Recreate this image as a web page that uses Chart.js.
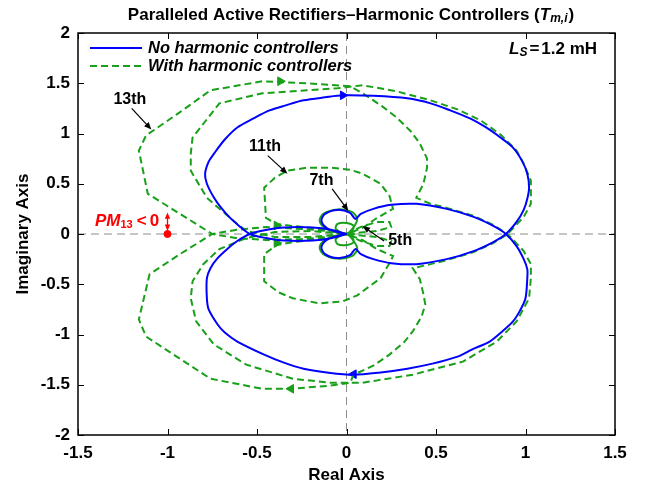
<!DOCTYPE html>
<html>
<head>
<meta charset="utf-8">
<script src="https://cdn.jsdelivr.net/npm/chart.js@4.4.1/dist/chart.umd.min.js"></script>
<style>
  html, body { margin: 0; padding: 0; background: #fff; }
</style>
</head>
<body>
<canvas id="nyquist" width="649" height="492"></canvas>
<script>
// axis ticks
const xTicks = [-1.5, -1, -0.5, 0, 0.5, 1, 1.5];
const yTicks = [-2, -1.5, -1, -0.5, 0, 0.5, 1, 1.5, 2];

// No harmonic controllers, both halves of the locus [re, im]
const noHarmA = [[0,0],[-0.08,-0.04],[-0.19,-0.065],[-0.35,-0.065],[-0.45,-0.04],[-0.54,0],[-0.6,0.08],[-0.65,0.16],
  [-0.7,0.26],[-0.74,0.36],[-0.78,0.5],[-0.79,0.6],[-0.77,0.72],[-0.74,0.8],[-0.68,0.94],[-0.61,1.06],[-0.52,1.15],
  [-0.43,1.23],[-0.34,1.28],[-0.24,1.33],[-0.12,1.36],[-0.02,1.38],[0.15,1.375],[0.34,1.35],[0.47,1.3],[0.58,1.23],
  [0.69,1.15],[0.78,1.06],[0.86,0.96],[0.93,0.86],[0.98,0.73],[1.01,0.6],[1.02,0.46],[1.01,0.35],[0.99,0.24],
  [0.95,0.12],[0.89,0],[0.82,-0.08],[0.71,-0.17],[0.56,-0.25],[0.39,-0.3],[0.25,-0.29],[0.15,-0.25],[0.08,-0.2],
  [0.05,-0.15],[0.02,-0.21],[-0.05,-0.24],[-0.12,-0.2],[-0.14,-0.13],[-0.11,-0.06],[-0.05,-0.02],[0,0]];
const noHarmB = [[0,0],[-0.05,0.02],[-0.11,0.06],[-0.14,0.13],[-0.12,0.2],[-0.05,0.24],[0.02,0.21],[0.05,0.15],
  [0.08,0.2],[0.15,0.25],[0.25,0.29],[0.39,0.3],[0.56,0.25],[0.71,0.17],[0.82,0.08],[0.89,0],[0.95,-0.12],
  [0.99,-0.25],[1.01,-0.35],[1.01,-0.44],[1.0,-0.64],[0.97,-0.76],[0.93,-0.87],[0.87,-0.97],[0.8,-1.07],[0.7,-1.15],
  [0.62,-1.22],[0.48,-1.29],[0.34,-1.34],[0.18,-1.38],[0.04,-1.4],[-0.1,-1.38],[-0.24,-1.34],[-0.35,-1.28],
  [-0.46,-1.2],[-0.61,-1.07],[-0.68,-0.98],[-0.72,-0.9],[-0.77,-0.75],[-0.78,-0.64],[-0.78,-0.44],[-0.76,-0.34],
  [-0.72,-0.24],[-0.66,-0.14],[-0.61,-0.07],[-0.54,0],[-0.45,0.04],[-0.35,0.065],[-0.19,0.065],[-0.08,0.04],[0,0]];

// With harmonic controllers
const withHarmA = [[0,0],[-0.1,-0.03],[-0.25,-0.05],[-0.45,-0.06],[-0.62,-0.04],[-0.75,0],[-0.93,0.2],[-1.11,0.4],
  [-1.16,0.83],[-1.12,0.98],[-0.94,1.2],[-0.76,1.43],[-0.47,1.52],[-0.22,1.5],[0.02,1.47],[0.09,1.4],[0.2,1.27],
  [0.28,1.16],[0.36,1.02],[0.41,0.9],[0.45,0.75],[0.45,0.66],[0.43,0.5],[0.39,0.36],[0.47,0.3],[0.56,0.26],
  [0.71,0.18],[0.82,0.09],[0.9,0],[0.99,-0.17],[1.03,-0.3],[1.03,-0.44],[1.02,-0.64],[0.95,-0.87],[0.84,-1.07],
  [0.65,-1.27],[0.37,-1.4],[0.09,-1.48],[-0.09,-1.48],[-0.3,-1.44],[-0.56,-1.3],[-0.74,-1.1],[-0.84,-0.87],
  [-0.87,-0.64],[-0.86,-0.47],[-0.8,-0.3],[-0.71,-0.15],[-0.56,-0.04],[-0.4,0.02],[-0.2,0.03],[0,0]];
const withHarmB = [[0,0],[-0.1,0.03],[-0.25,0.05],[-0.45,0.07],[-0.62,0.04],[-0.75,0],[-0.93,-0.2],[-1.1,-0.4],
  [-1.16,-0.85],[-1.12,-1.02],[-0.94,-1.23],[-0.76,-1.44],[-0.47,-1.54],[-0.31,-1.54],[-0.1,-1.51],[0.02,-1.48],
  [0.04,-1.4],[0.15,-1.31],[0.24,-1.2],[0.32,-1.08],[0.37,-0.97],[0.42,-0.82],[0.44,-0.7],[0.43,-0.6],[0.41,-0.45],
  [0.37,-0.34],[0.47,-0.3],[0.56,-0.26],[0.71,-0.18],[0.82,-0.09],[0.9,0],[0.99,0.17],[1.03,0.3],[1.03,0.53],
  [0.99,0.7],[0.95,0.83],[0.86,0.99],[0.75,1.13],[0.62,1.24],[0.47,1.33],[0.28,1.42],[0.09,1.48],[-0.05,1.45],
  [-0.22,1.43],[-0.47,1.4],[-0.71,1.3],[-0.86,0.96],[-0.87,0.8],[-0.87,0.63],[-0.78,0.36],[-0.65,0.16],
  [-0.56,0.03],[-0.4,-0.03],[-0.2,-0.03],[0,0]];
const with11Upper = [[0,0],[-0.15,0.05],[-0.3,0.08],[-0.39,0.1],[-0.45,0.16],[-0.46,0.46],[-0.4,0.56],[-0.33,0.63],
  [-0.22,0.66],[-0.09,0.66],[0.02,0.64],[0.09,0.6],[0.19,0.5],[0.24,0.38],[0.26,0.25],[0.17,0.16],[0.09,0.06],[0,0]];
const with11Lower = [[0,0],[-0.15,-0.05],[-0.3,-0.08],[-0.39,-0.11],[-0.46,-0.2],[-0.46,-0.47],[-0.38,-0.58],
  [-0.3,-0.64],[-0.15,-0.69],[-0.02,-0.67],[0.06,-0.61],[0.19,-0.44],[0.24,-0.29],[0.26,-0.22],[0.17,-0.15],
  [0.09,-0.06],[0,0]];
const with7Upper = [[0,0],[-0.06,0.02],[-0.12,0.06],[-0.15,0.13],[-0.13,0.2],[-0.05,0.245],[0.03,0.22],[0.06,0.15],
  [0.04,0.07],[0,0],[-0.06,0.05],[-0.05,0.1],[0,0.11],[0.04,0.08],[0.03,0.03],[0,0]];
const with7Lower = [[0,0],[-0.06,-0.02],[-0.12,-0.06],[-0.15,-0.13],[-0.13,-0.2],[-0.05,-0.245],[0.03,-0.22],
  [0.06,-0.15],[0.04,-0.07],[0,0],[-0.06,-0.05],[-0.05,-0.1],[0,-0.11],[0.04,-0.08],[0.03,-0.03],[0,0]];
const with5Upper = [[0,0],[0.08,0.07],[0.17,0.12],[0.24,0.12],[0.25,0.07],[0.17,0.03],[0,0]];
const with5Lower = [[0,0],[0.08,-0.07],[0.17,-0.12],[0.24,-0.12],[0.25,-0.07],[0.17,-0.03],[0,0]];

// direction arrows on the loci (position and heading in degrees)
const blueArrowPts = [[-0.02,1.38],[0.04,-1.395]];
const blueArrowDir = [90, 270];
const greenArrowPts = [[-0.37,1.52],[-0.31,-1.54],[-0.39,0.085],[-0.39,-0.09]];
const greenArrowDir = [90, 270, 90, 90];

// critical point and the 13th phase margin mark
const criticalPt = [[-1, 0]];
const pmTop = 0.215;

// labels with pointer arrows: text, label centre, arrow tail, arrow head
const harmLabels = [
  ['13th', [-1.21, 1.34], [-1.2, 1.25], [-1.09, 1.04]],
  ['11th', [-0.455, 0.87], [-0.44, 0.78], [-0.33, 0.6]],
  ['7th', [-0.14, 0.53], [-0.08, 0.45], [0.01, 0.23]],
  ['5th', [0.3, -0.07], [0.21, -0.07], [0.09, 0.08]]
];

const BLUE = 'rgb(0,0,255)';
const GREEN = 'rgb(24,160,24)';
const FONT = '"Liberation Sans", Arial, sans-serif';

const pts = arr => arr.map(p => ({ x: p[0], y: p[1] }));

function blueLine(arr) {
  return { data: pts(arr), showLine: true, borderColor: BLUE, borderWidth: 2, pointRadius: 0, tension: 0.3, fill: false };
}
function greenLine(arr) {
  return { data: pts(arr), showLine: true, borderColor: GREEN, borderWidth: 2, borderDash: [7, 4], pointRadius: 0, tension: 0, fill: false };
}

const datasets = [
  blueLine(noHarmA), blueLine(noHarmB),
  greenLine(withHarmA), greenLine(withHarmB),
  greenLine(with11Upper), greenLine(with11Lower),
  { data: pts(with7Upper), showLine: true, borderColor: GREEN, borderWidth: 2, pointRadius: 0, tension: 0.3 },
  { data: pts(with7Lower), showLine: true, borderColor: GREEN, borderWidth: 2, pointRadius: 0, tension: 0.3 },
  greenLine(with5Upper), greenLine(with5Lower),
  { data: pts(blueArrowPts), showLine: false, pointStyle: 'triangle', pointRadius: 5, pointRotation: blueArrowDir,
    backgroundColor: BLUE, borderColor: BLUE, borderWidth: 1 },
  { data: pts(greenArrowPts), showLine: false, pointStyle: 'triangle', pointRadius: 5, pointRotation: greenArrowDir,
    backgroundColor: GREEN, borderColor: GREEN, borderWidth: 1 },
  { data: pts(criticalPt), showLine: false, pointStyle: 'circle', pointRadius: 3.5,
    backgroundColor: 'rgb(255,0,0)', borderColor: 'rgb(255,0,0)' }
];

function head(c, x2, y2, a, size) {
  c.beginPath();
  c.moveTo(x2, y2);
  c.lineTo(x2 - size * Math.cos(a - 0.4), y2 - size * Math.sin(a - 0.4));
  c.lineTo(x2 - size * Math.cos(a + 0.4), y2 - size * Math.sin(a + 0.4));
  c.closePath(); c.fill();
}

function arrow(c, x1, y1, x2, y2, color, size) {
  const a = Math.atan2(y2 - y1, x2 - x1);
  c.strokeStyle = color; c.fillStyle = color; c.lineWidth = 1.2;
  c.beginPath(); c.moveTo(x1, y1); c.lineTo(x2 - Math.cos(a) * size * 0.8, y2 - Math.sin(a) * size * 0.8); c.stroke();
  head(c, x2, y2, a, size);
}

const framePlugin = {
  id: 'frame',
  beforeDatasetsDraw(chart) {
    const { ctx: c, chartArea: a, scales: { x, y } } = chart;
    c.save();
    c.strokeStyle = '#8c8c8c'; c.lineWidth = 1; c.setLineDash([8, 5]);
    c.beginPath();
    c.moveTo(a.left, y.getPixelForValue(0)); c.lineTo(a.right, y.getPixelForValue(0));
    c.moveTo(x.getPixelForValue(0), a.top); c.lineTo(x.getPixelForValue(0), a.bottom);
    c.stroke();

    // PM13 < 0 double arrow, below the critical point marker
    const RED = 'rgb(255,0,0)';
    const cx = x.getPixelForValue(criticalPt[0][0]);
    const y0 = y.getPixelForValue(criticalPt[0][1]) - 3, y1 = y.getPixelForValue(pmTop);
    c.setLineDash([]);
    c.strokeStyle = RED; c.fillStyle = RED; c.lineWidth = 1.3;
    c.beginPath(); c.moveTo(cx, y0 - 5); c.lineTo(cx, y1 + 5); c.stroke();
    head(c, cx, y1, -Math.PI / 2, 7);
    head(c, cx, y0, Math.PI / 2, 7);
    c.restore();
  },
  afterDatasetsDraw(chart) {
    const { ctx: c, chartArea: a, scales: { x, y } } = chart;
    c.save();
    // box and inward ticks
    c.strokeStyle = '#000'; c.lineWidth = 1.5; c.setLineDash([]);
    c.strokeRect(a.left, a.top, a.right - a.left, a.bottom - a.top);
    c.lineWidth = 1;
    c.beginPath();
    xTicks.forEach(v => {
      const px = Math.round(x.getPixelForValue(v)) + 0.5;
      c.moveTo(px, a.bottom); c.lineTo(px, a.bottom - 6);
      c.moveTo(px, a.top); c.lineTo(px, a.top + 6);
    });
    yTicks.forEach(v => {
      const py = Math.round(y.getPixelForValue(v)) + 0.5;
      c.moveTo(a.left, py); c.lineTo(a.left + 6, py);
      c.moveTo(a.right, py); c.lineTo(a.right - 6, py);
    });
    c.stroke();

    // title
    const t1 = 'Paralleled Active Rectifiers\u2013Harmonic Controllers (';
    c.fillStyle = '#000'; c.textBaseline = 'middle'; c.textAlign = 'left';
    const fb = 'bold 17px ' + FONT, fi = 'italic bold 17px ' + FONT, fs = 'italic bold 12px ' + FONT;
    c.font = fb; const w1 = c.measureText(t1).width, w4 = c.measureText(')').width;
    c.font = fi; const w2 = c.measureText('T').width;
    c.font = fs; const w3 = c.measureText('m,i').width + 1;
    let tx = 351 - (w1 + w2 + w3 + w4) / 2; const ty = 15;
    c.font = fb; c.fillText(t1, tx, ty); tx += w1;
    c.font = fi; c.fillText('T', tx, ty); tx += w2;
    c.font = fs; c.fillText('m,i', tx, ty + 4); tx += w3;
    c.font = fb; c.fillText(')', tx, ty);

    // legend
    const lf = 'italic bold 16.5px ' + FONT;
    c.lineWidth = 2;
    c.strokeStyle = BLUE; c.beginPath(); c.moveTo(a.left + 12, 48); c.lineTo(a.left + 64, 48); c.stroke();
    c.strokeStyle = GREEN; c.setLineDash([7, 4]); c.beginPath(); c.moveTo(a.left + 12, 66); c.lineTo(a.left + 64, 66); c.stroke();
    c.setLineDash([]);
    c.font = lf; c.fillStyle = '#000';
    c.fillText('No harmonic controllers', a.left + 70, 48);
    c.fillText('With harmonic controllers', a.left + 70, 66);

    // L_S = 1.2 mH
    let lx = 509; const ly = 49;
    c.font = fi; c.fillText('L', lx, ly); lx += c.measureText('L').width;
    c.font = fs; c.fillText('S', lx, ly + 4); lx += c.measureText('S').width + 2;
    c.font = fb; c.fillText('=', lx, ly); lx += c.measureText('=').width + 2;
    c.fillText('1.2 mH', lx, ly);

    // harmonic labels and pointers
    harmLabels.forEach(([txt, pos, from, to]) => {
      c.font = 'bold 16px ' + FONT; c.textAlign = 'center'; c.fillStyle = '#000';
      c.fillText(txt, x.getPixelForValue(pos[0]), y.getPixelForValue(pos[1]));
      arrow(c, x.getPixelForValue(from[0]), y.getPixelForValue(from[1]),
        x.getPixelForValue(to[0]), y.getPixelForValue(to[1]), '#000', 8);
    });

    // PM13 < 0 text
    c.fillStyle = 'rgb(255,0,0)'; c.textAlign = 'left';
    let px = 95; const py = 221;
    c.font = fi; c.fillText('PM', px, py); px += c.measureText('PM').width;
    c.font = 'bold 11px ' + FONT; c.fillText('13', px, py + 4); px += c.measureText('13').width + 4;
    c.font = fb; c.fillText('<', px, py); px += c.measureText('<').width + 3;
    c.fillText('0', px, py);
    c.restore();
  }
};

const tickFont = { family: FONT, size: 17, weight: 'bold' };

const ctx = document.getElementById('nyquist').getContext('2d');
const nyquistChart = new Chart(ctx, {
  type: 'scatter',
  data: { datasets: datasets },
  options: {
    responsive: false,
    animation: false,
    layout: { padding: { top: 33, right: 34, left: 0, bottom: 0 } },
    plugins: { legend: { display: false }, tooltip: { enabled: false } },
    scales: {
      x: {
        type: 'linear', min: -1.5, max: 1.5,
        afterBuildTicks: s => { s.ticks = xTicks.map(v => ({ value: v })); },
        afterFit: s => { s.height = 57; },
        grid: { display: false }, border: { display: false },
        ticks: { color: '#000', font: tickFont, padding: 0, maxRotation: 0, autoSkip: false, callback: v => String(v) },
        title: { display: true, text: 'Real Axis', color: '#000', font: tickFont, padding: { top: 7, bottom: 6 } }
      },
      y: {
        type: 'linear', min: -2, max: 2,
        afterBuildTicks: s => { s.ticks = yTicks.map(v => ({ value: v })); },
        afterFit: s => { s.width = 78; },
        grid: { display: false }, border: { display: false },
        ticks: { color: '#000', font: tickFont, padding: 0, autoSkip: false, callback: v => String(v) },
        title: { display: true, text: 'Imaginary Axis', color: '#000', font: tickFont, padding: { top: 13, bottom: 4 } }
      }
    }
  },
  plugins: [framePlugin]
});
</script>
</body>
</html>
